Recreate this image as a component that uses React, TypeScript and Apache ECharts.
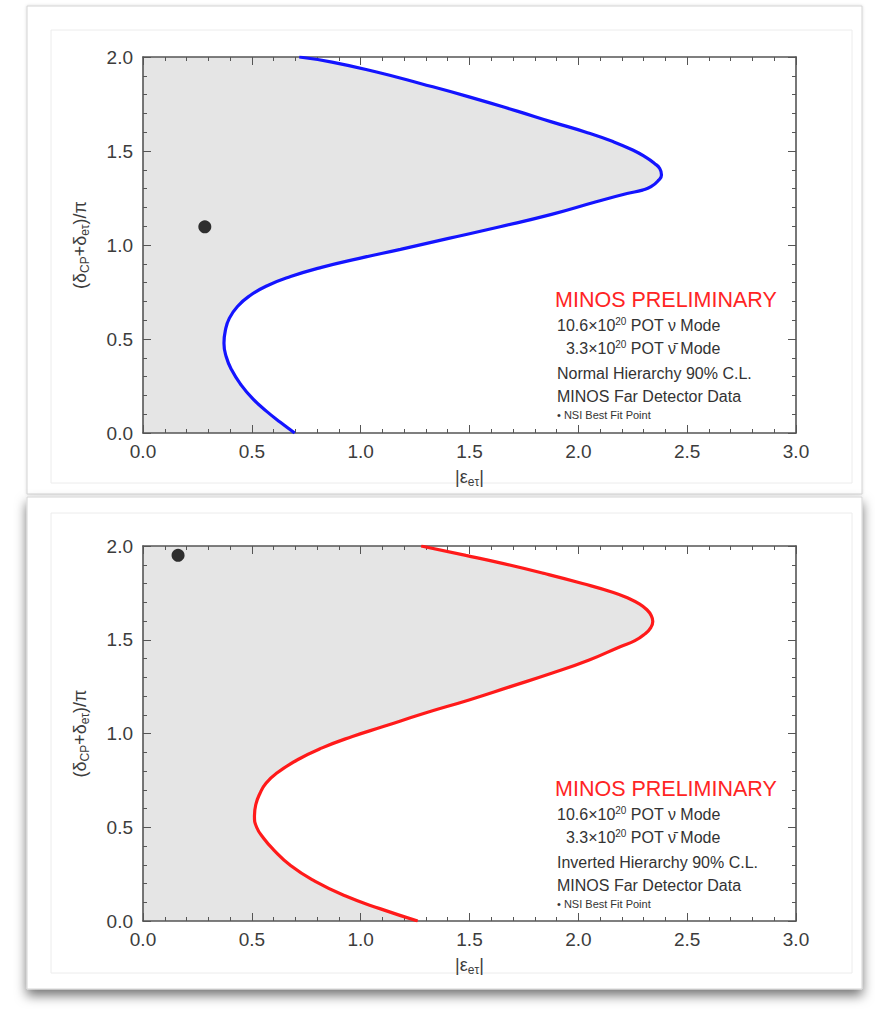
import React, { useEffect, useRef } from 'react';
import * as echarts from 'echarts';

// ---- data ----
const xRange = [0, 3];
const yRange = [0, 2];
const xTickStep = 0.5;
const yTickStep = 0.5;

// Normal hierarchy 90% C.L. contour (|eps_etau|, (dCP+detau)/pi)
const normalCurveX = [0.697, 0.631, 0.568, 0.505, 0.45, 0.407, 0.382, 0.372, 0.379, 0.397, 0.434, 0.489, 0.568, 0.678, 0.82, 0.994, 1.183, 1.404, 1.64, 1.877, 2.082, 2.224, 2.295, 2.334, 2.369, 2.382, 2.374, 2.35, 2.311, 2.25, 2.159, 2.035, 1.877, 1.719, 1.498, 1.278, 1.073, 0.868, 0.718];
const normalCurveY = [0.0, 0.057, 0.115, 0.181, 0.257, 0.336, 0.407, 0.478, 0.549, 0.611, 0.673, 0.729, 0.782, 0.832, 0.881, 0.929, 0.977, 1.035, 1.097, 1.163, 1.23, 1.274, 1.292, 1.31, 1.345, 1.372, 1.407, 1.434, 1.466, 1.505, 1.55, 1.6, 1.655, 1.712, 1.788, 1.858, 1.92, 1.973, 2.0];
const normalBestFit = [0.284, 1.097];

// Inverted hierarchy 90% C.L. contour
const invertedCurveX = [1.262, 1.088, 0.931, 0.789, 0.678, 0.599, 0.555, 0.522, 0.512, 0.518, 0.537, 0.565, 0.615, 0.71, 0.82, 0.962, 1.104, 1.293, 1.498, 1.688, 1.877, 2.05, 2.192, 2.26, 2.305, 2.333, 2.342, 2.334, 2.315, 2.282, 2.232, 2.161, 2.019, 1.845, 1.656, 1.483, 1.278];
const invertedCurveY = [0.0, 0.066, 0.133, 0.213, 0.296, 0.381, 0.44, 0.5, 0.56, 0.62, 0.68, 0.735, 0.789, 0.86, 0.922, 0.984, 1.037, 1.108, 1.179, 1.25, 1.321, 1.392, 1.463, 1.495, 1.53, 1.565, 1.598, 1.631, 1.66, 1.69, 1.72, 1.752, 1.8, 1.853, 1.906, 1.95, 2.0];
const invertedBestFit = [0.161, 1.95];

const legendNormal = [
  'MINOS PRELIMINARY',
  '10.6×10{sup|20} POT ν Mode',
  '  3.3×10{sup|20} POT ν̄ Mode',
  'Normal Hierarchy 90% C.L.',
  'MINOS Far Detector Data',
  '• NSI Best Fit Point',
];
const legendInverted = [
  'MINOS PRELIMINARY',
  '10.6×10{sup|20} POT ν Mode',
  '  3.3×10{sup|20} POT ν̄ Mode',
  'Inverted Hierarchy 90% C.L.',
  'MINOS Far Detector Data',
  '• NSI Best Fit Point',
];
const xTitle = '|ε{sub|eτ}|';
const yTitle = '(δ{sub|CP}+δ{sub|eτ})/π';

const FONT = '"Liberation Sans", Arial, Helvetica, sans-serif';
const AXIS_COLOR = '#555';
const LABEL_COLOR = '#3c3c3c';
const FILL = '#e5e5e5';

function zip(xs: number[], ys: number[]) {
  return xs.map((x, i) => [x, ys[i]]);
}

export default function App() {
  const ref = useRef<HTMLDivElement>(null);
  useEffect(() => {
    if (!ref.current) return;
    const chart = echarts.init(ref.current, null, { renderer: 'svg' });

    const grids = [
      { left: 143, top: 57, width: 653, height: 376 },
      { left: 143, top: 546, width: 653, height: 375 },
    ];

    const tickCommon = {
      axisLine: { show: true, onZero: false, lineStyle: { color: AXIS_COLOR, width: 1.6 } },
      axisTick: { show: true, inside: true, length: 8, lineStyle: { color: AXIS_COLOR, width: 1 } },
      minorTick: { show: true, splitNumber: 5, length: 4, lineStyle: { color: AXIS_COLOR, width: 1 } },
      splitLine: { show: false },
      minorSplitLine: { show: false },
    };
    const labelStyle = { fontSize: 19, color: LABEL_COLOR, fontFamily: FONT };
    const nameRich = {
      sub: { fontSize: 12, fontFamily: FONT, color: LABEL_COLOR, verticalAlign: 'bottom', padding: [10, 0, 0, 0] },
    };

    const xAxes: any[] = [];
    const yAxes: any[] = [];
    [0, 1].forEach((g) => {
      xAxes.push({
        type: 'value', gridIndex: g, position: 'bottom', min: xRange[0], max: xRange[1], interval: xTickStep,
        ...tickCommon,
        axisLabel: { ...labelStyle, margin: 9, formatter: (v: number) => v.toFixed(1) },
        name: xTitle, nameLocation: 'middle', nameGap: 33,
        nameTextStyle: { fontSize: 18, color: LABEL_COLOR, fontFamily: FONT, rich: nameRich },
      });
      xAxes.push({
        type: 'value', gridIndex: g, position: 'top', min: xRange[0], max: xRange[1], interval: xTickStep,
        ...tickCommon, axisLabel: { show: false },
      });
      yAxes.push({
        type: 'value', gridIndex: g, position: 'left', min: yRange[0], max: yRange[1], interval: yTickStep,
        ...tickCommon,
        axisLabel: { ...labelStyle, margin: 10, formatter: (v: number) => v.toFixed(1) },
        name: yTitle, nameLocation: 'middle', nameGap: 52, nameRotate: 90,
        nameTextStyle: { fontSize: 18, color: LABEL_COLOR, fontFamily: FONT, rich: nameRich },
      });
      yAxes.push({
        type: 'value', gridIndex: g, position: 'right', min: yRange[0], max: yRange[1], interval: yTickStep,
        ...tickCommon, axisLabel: { show: false },
      });
    });

    const panels = [
      { curveX: normalCurveX, curveY: normalCurveY, best: normalBestFit, color: '#1414ff', legend: legendNormal },
      { curveX: invertedCurveX, curveY: invertedCurveY, best: invertedBestFit, color: '#ff1a1a', legend: legendInverted },
    ];

    const series: any[] = [];
    panels.forEach((p, g) => {
      const pts = zip(p.curveX, p.curveY);
      series.push({
        type: 'custom', xAxisIndex: g * 2, yAxisIndex: g * 2, z: -1, silent: true,
        data: [[0, 0]],
        renderItem: (params: any, api: any) => {
          const poly = [
            api.coord([xRange[0], p.curveY[0]]),
            ...pts.map((pt) => api.coord(pt)),
            api.coord([xRange[0], p.curveY[p.curveY.length - 1]]),
          ];
          return { type: 'polygon', shape: { points: poly }, style: { fill: FILL } };
        },
      });
      series.push({
        type: 'line', xAxisIndex: g * 2, yAxisIndex: g * 2, data: pts, smooth: 0.5,
        showSymbol: false, symbol: 'none', z: 3,
        lineStyle: { color: p.color, width: 3.2 },
      });
      series.push({
        type: 'scatter', xAxisIndex: g * 2, yAxisIndex: g * 2, data: [p.best], symbolSize: 13, z: 4,
        itemStyle: { color: '#000' },
      });
    });

    const legendYs = [300, 325, 348, 373, 396, 415];
    const graphic: any[] = [
      // cards
      { type: 'rect', z: -20, silent: true, shape: { x: 27, y: 6, width: 835, height: 488 },
        style: { fill: '#fff', stroke: '#d4d4d4', lineWidth: 1, shadowBlur: 3, shadowColor: 'rgba(0,0,0,0.15)' } },
      { type: 'rect', z: -20, silent: true, shape: { x: 27, y: 497, width: 835, height: 492 },
        style: { fill: '#fff', stroke: '#d4d4d4', lineWidth: 1, shadowBlur: 12, shadowOffsetY: 6, shadowColor: 'rgba(0,0,0,0.55)' } },
      { type: 'rect', z: -19, silent: true, shape: { x: 51, y: 30, width: 801, height: 453 },
        style: { fill: 'none', stroke: '#ececec', lineWidth: 1 } },
      { type: 'rect', z: -19, silent: true, shape: { x: 51, y: 513, width: 801, height: 460 },
        style: { fill: 'none', stroke: '#ececec', lineWidth: 1 } },
    ];
    panels.forEach((p, g) => {
      const dy = g * 489;
      p.legend.forEach((t, i) => {
        const isHead = i === 0;
        const isSmall = i === p.legend.length - 1;
        graphic.push({
          type: 'text', z: 10, silent: true,
          x: isHead ? 555 : 557, y: legendYs[i] + dy,
          style: {
            text: t,
            fill: isHead ? '#ff2424' : '#333',
            fontSize: isHead ? 21.5 : isSmall ? 11 : 16,
            fontFamily: FONT,
            verticalAlign: 'middle',
            rich: {
              sup: { fontSize: 10, fontFamily: FONT, fill: '#333', verticalAlign: 'top', padding: [0, 0, 8, 0] },
            },
          },
        });
      });
    });

    chart.setOption({
      animation: false,
      backgroundColor: '#fff',
      grid: grids,
      xAxis: xAxes,
      yAxis: yAxes,
      series,
      graphic,
    });
    return () => chart.dispose();
  }, []);

  return <div ref={ref} style={{ position: 'fixed', left: 0, top: 0, width: 875, height: 1015 }} />;
}
